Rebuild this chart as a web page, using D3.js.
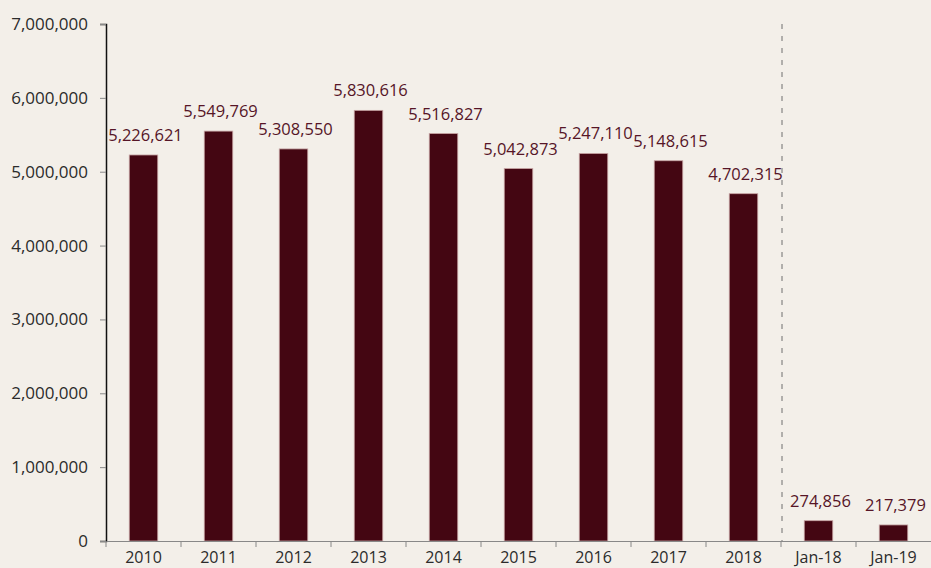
<!DOCTYPE html>
<html><head><meta charset="utf-8">
<script src="https://cdn.jsdelivr.net/npm/d3@7"></script>
<style>body{margin:0;background:#f3efe9;}svg{display:block;}</style>
</head><body><svg id="c" width="931" height="568"></svg>
<script>
const categories = ["2010","2011","2012","2013","2014","2015","2016","2017","2018","Jan-18","Jan-19"];
const values = [5226621,5549769,5308550,5830616,5516827,5042873,5247110,5148615,4702315,274856,217379];
const yTicks = [0,1000000,2000000,3000000,4000000,5000000,6000000,7000000];
const dividerAfter = "2018";

const W=931,H=568, m={l:106,r:0,t:24,b:27};
const svg=d3.select("#c");
svg.append("rect").attr("width",W).attr("height",H).attr("fill","#f3efe9");
const font="'Open Sans', 'Noto Sans', sans-serif";
const x=d3.scaleBand().domain(categories).range([m.l,W-m.r]).paddingInner(0.62).paddingOuter(0.31);
const xb=d3.scaleBand().domain(categories).range([m.l,W-m.r]);
const y=d3.scaleLinear().domain([0,7000000]).range([H-m.b,m.t]);
const fmt=d3.format(",");

// y axis
const ya=svg.append("g").attr("transform",`translate(${m.l},0)`)
 .call(d3.axisLeft(y).tickValues(yTicks).tickFormat(fmt).tickSize(6).tickPadding(12));
ya.select(".domain").attr("stroke","#111").attr("stroke-width",1.5);
ya.selectAll(".tick line").attr("stroke","#888");
ya.selectAll("text").attr("font-family",font).attr("font-size",17).attr("fill","#2b2b2b");

// divider
const dx=xb(dividerAfter)+xb.bandwidth()+1;
svg.append("line").attr("x1",dx).attr("x2",dx).attr("y1",y(7000000)).attr("y2",y(0))
 .attr("stroke","#6f6f6f").attr("stroke-dasharray","5,7");

// bars
svg.selectAll("rect.bar").data(values).join("rect").attr("class","bar")
 .attr("x",(d,i)=>x(categories[i])).attr("width",x.bandwidth())
 .attr("y",d=>y(d)).attr("height",d=>y(0)-y(d))
 .attr("fill","#440612").attr("stroke","#c7a4a4").attr("stroke-width",0.8);

svg.selectAll("text.lbl").data(values).join("text").attr("class","lbl")
 .attr("x",(d,i)=>x(categories[i])+x.bandwidth()/2+2).attr("y",d=>y(d)-14)
 .attr("text-anchor","middle").attr("font-family",font).attr("font-size",16.5)
 .attr("fill","#561527").text(d=>fmt(d));

// x axis
const xa=svg.append("g").attr("transform",`translate(0,${y(0)})`)
 .call(d3.axisBottom(xb).tickSize(0).tickPadding(11));
xa.select(".domain").attr("stroke","#888").attr("stroke-width",1.2);
xa.selectAll("text").attr("font-family",font).attr("font-size",16).attr("fill","#2b2b2b");
xa.selectAll("line.sep").data(categories).join("line").attr("class","sep")
 .attr("x1",d=>xb(d)).attr("x2",d=>xb(d)).attr("y1",0).attr("y2",6).attr("stroke","#888");
</script></body></html>
